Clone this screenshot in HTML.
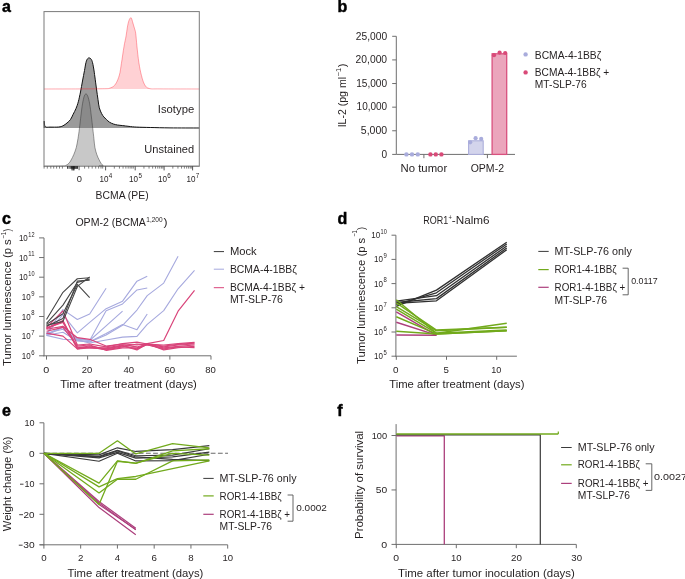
<!DOCTYPE html>
<html><head><meta charset="utf-8"><style>
html,body{margin:0;padding:0;background:#fff;width:685px;height:579px;overflow:hidden}
svg{display:block}
text{font-family:"Liberation Sans",sans-serif}
</style></head><body>
<svg width="685" height="579" viewBox="0 0 685 579">
<rect width="685" height="579" fill="#fff"/>
<g style="will-change:transform">
<text x="1.9" y="11.8" font-size="16" font-weight="bold" fill="#000" stroke="#000" stroke-width="0.45">a</text>
<text x="337.6" y="11.7" font-size="16" font-weight="bold" fill="#000" stroke="#000" stroke-width="0.45">b</text>
<text x="1.9" y="223.8" font-size="16" font-weight="bold" fill="#000" stroke="#000" stroke-width="0.45">c</text>
<text x="337.5" y="223.6" font-size="16" font-weight="bold" fill="#000" stroke="#000" stroke-width="0.45">d</text>
<text x="1.9" y="415.6" font-size="16" font-weight="bold" fill="#000" stroke="#000" stroke-width="0.45">e</text>
<text x="337.3" y="415.5" font-size="16" font-weight="bold" fill="#000" stroke="#000" stroke-width="0.45">f</text>
<path d="M44.20,128.00 C44.20,126.83 44.03,121.22 44.20,121.00 C44.37,120.78 44.23,125.68 45.20,126.70 C46.17,127.72 47.75,127.05 50.00,127.10 C52.25,127.15 56.53,127.22 58.70,127.00 C60.87,126.78 61.62,126.47 63.00,125.80 C64.38,125.13 65.75,124.05 67.00,123.00 C68.25,121.95 69.47,120.97 70.50,119.50 C71.53,118.03 72.28,116.03 73.20,114.20 C74.12,112.37 75.15,110.57 76.00,108.50 C76.85,106.43 77.55,104.55 78.30,101.80 C79.05,99.05 79.80,95.47 80.50,92.00 C81.20,88.53 81.83,84.58 82.50,81.00 C83.17,77.42 83.92,73.60 84.50,70.50 C85.08,67.40 85.50,64.35 86.00,62.40 C86.50,60.45 86.98,59.55 87.50,58.80 C88.02,58.05 88.55,57.90 89.10,57.90 C89.65,57.90 90.28,58.22 90.80,58.80 C91.32,59.38 91.73,59.87 92.20,61.40 C92.67,62.93 93.15,65.40 93.60,68.00 C94.05,70.60 94.42,73.50 94.90,77.00 C95.38,80.50 95.98,85.22 96.50,89.00 C97.02,92.78 97.53,96.57 98.00,99.70 C98.47,102.83 98.68,105.47 99.30,107.80 C99.92,110.13 100.95,112.18 101.70,113.70 C102.45,115.22 103.02,115.93 103.80,116.90 C104.58,117.87 105.45,118.62 106.40,119.50 C107.35,120.38 108.33,121.45 109.50,122.20 C110.67,122.95 112.07,123.53 113.40,124.00 C114.73,124.47 115.95,124.73 117.50,125.00 C119.05,125.27 120.78,125.37 122.70,125.60 C124.62,125.83 126.67,126.15 129.00,126.40 C131.33,126.65 133.08,126.92 136.70,127.10 C140.32,127.28 145.15,127.37 150.70,127.50 C156.25,127.63 161.90,127.82 170.00,127.90 C178.10,127.98 194.42,127.98 199.30,128.00 Z" fill="#9b9b9b" stroke="none" stroke-width="1.0"/>
<path d="M44.20,128.00 C44.20,126.83 44.03,121.22 44.20,121.00 C44.37,120.78 44.23,125.68 45.20,126.70 C46.17,127.72 47.75,127.05 50.00,127.10 C52.25,127.15 56.53,127.22 58.70,127.00 C60.87,126.78 61.62,126.47 63.00,125.80 C64.38,125.13 65.75,124.05 67.00,123.00 C68.25,121.95 69.47,120.97 70.50,119.50 C71.53,118.03 72.28,116.03 73.20,114.20 C74.12,112.37 75.15,110.57 76.00,108.50 C76.85,106.43 77.55,104.55 78.30,101.80 C79.05,99.05 79.80,95.47 80.50,92.00 C81.20,88.53 81.83,84.58 82.50,81.00 C83.17,77.42 83.92,73.60 84.50,70.50 C85.08,67.40 85.50,64.35 86.00,62.40 C86.50,60.45 86.98,59.55 87.50,58.80 C88.02,58.05 88.55,57.90 89.10,57.90 C89.65,57.90 90.28,58.22 90.80,58.80 C91.32,59.38 91.73,59.87 92.20,61.40 C92.67,62.93 93.15,65.40 93.60,68.00 C94.05,70.60 94.42,73.50 94.90,77.00 C95.38,80.50 95.98,85.22 96.50,89.00 C97.02,92.78 97.53,96.57 98.00,99.70 C98.47,102.83 98.68,105.47 99.30,107.80 C99.92,110.13 100.95,112.18 101.70,113.70 C102.45,115.22 103.02,115.93 103.80,116.90 C104.58,117.87 105.45,118.62 106.40,119.50 C107.35,120.38 108.33,121.45 109.50,122.20 C110.67,122.95 112.07,123.53 113.40,124.00 C114.73,124.47 115.95,124.73 117.50,125.00 C119.05,125.27 120.78,125.37 122.70,125.60 C124.62,125.83 126.67,126.15 129.00,126.40 C131.33,126.65 133.08,126.92 136.70,127.10 C140.32,127.28 145.15,127.37 150.70,127.50 C156.25,127.63 161.90,127.82 170.00,127.90 C178.10,127.98 194.42,127.98 199.30,128.00" fill="none" stroke="#111" stroke-width="1.0"/>
<path d="M44.00,166.20 C47.00,166.17 58.35,166.13 62.00,166.00 C65.65,165.87 64.73,165.87 65.90,165.40 C67.07,164.93 68.13,164.10 69.00,163.20 C69.87,162.30 70.30,161.45 71.10,160.00 C71.90,158.55 72.93,156.60 73.80,154.50 C74.67,152.40 75.60,150.07 76.30,147.40 C77.00,144.73 77.48,141.60 78.00,138.50 C78.52,135.40 78.90,132.72 79.40,128.80 C79.90,124.88 80.48,119.15 81.00,115.00 C81.52,110.85 81.97,107.02 82.50,103.90 C83.03,100.78 83.62,97.97 84.20,96.30 C84.78,94.63 85.40,93.90 86.00,93.90 C86.60,93.90 87.18,94.63 87.80,96.30 C88.42,97.97 89.12,100.62 89.70,103.90 C90.28,107.18 90.78,111.85 91.30,116.00 C91.82,120.15 92.37,125.05 92.80,128.80 C93.23,132.55 93.55,135.40 93.90,138.50 C94.25,141.60 94.42,144.73 94.90,147.40 C95.38,150.07 96.10,152.43 96.80,154.50 C97.50,156.57 98.37,158.30 99.10,159.80 C99.83,161.30 100.52,162.55 101.20,163.50 C101.88,164.45 102.23,165.07 103.20,165.50 C104.17,165.93 90.98,165.98 107.00,166.10 C123.02,166.22 183.92,166.18 199.30,166.20 Z" fill="rgba(110,110,110,0.38)" stroke="none" stroke-width="1.0"/>
<path d="M44.00,166.20 C47.00,166.17 58.35,166.13 62.00,166.00 C65.65,165.87 64.73,165.87 65.90,165.40 C67.07,164.93 68.13,164.10 69.00,163.20 C69.87,162.30 70.30,161.45 71.10,160.00 C71.90,158.55 72.93,156.60 73.80,154.50 C74.67,152.40 75.60,150.07 76.30,147.40 C77.00,144.73 77.48,141.60 78.00,138.50 C78.52,135.40 78.90,132.72 79.40,128.80 C79.90,124.88 80.48,119.15 81.00,115.00 C81.52,110.85 81.97,107.02 82.50,103.90 C83.03,100.78 83.62,97.97 84.20,96.30 C84.78,94.63 85.40,93.90 86.00,93.90 C86.60,93.90 87.18,94.63 87.80,96.30 C88.42,97.97 89.12,100.62 89.70,103.90 C90.28,107.18 90.78,111.85 91.30,116.00 C91.82,120.15 92.37,125.05 92.80,128.80 C93.23,132.55 93.55,135.40 93.90,138.50 C94.25,141.60 94.42,144.73 94.90,147.40 C95.38,150.07 96.10,152.43 96.80,154.50 C97.50,156.57 98.37,158.30 99.10,159.80 C99.83,161.30 100.52,162.55 101.20,163.50 C101.88,164.45 102.23,165.07 103.20,165.50 C104.17,165.93 90.98,165.98 107.00,166.10 C123.02,166.22 183.92,166.18 199.30,166.20" fill="none" stroke="rgba(50,50,50,0.6)" stroke-width="0.8"/>
<path d="M44.00,89.00 C53.33,88.97 88.93,88.98 100.00,88.80 C111.07,88.62 107.80,88.70 110.40,87.90 C113.00,87.10 114.10,86.15 115.60,84.00 C117.10,81.85 118.43,78.42 119.40,75.00 C120.37,71.58 120.63,68.25 121.40,63.50 C122.17,58.75 123.22,51.10 124.00,46.50 C124.78,41.90 125.53,39.13 126.10,35.90 C126.67,32.67 126.92,29.68 127.40,27.10 C127.88,24.52 128.38,21.95 129.00,20.40 C129.62,18.85 130.45,17.37 131.10,17.80 C131.75,18.23 132.35,21.28 132.90,23.00 C133.45,24.72 133.93,26.38 134.40,28.10 C134.87,29.82 135.28,30.33 135.70,33.30 C136.12,36.27 136.37,40.98 136.90,45.90 C137.43,50.82 138.13,57.83 138.90,62.80 C139.67,67.77 140.53,72.03 141.50,75.70 C142.47,79.37 143.42,82.67 144.70,84.80 C145.98,86.93 146.65,87.82 149.20,88.50 C151.75,89.18 151.65,88.82 160.00,88.90 C168.35,88.98 192.75,88.98 199.30,89.00 Z" fill="rgba(255,40,50,0.21)" stroke="none" stroke-width="1.0"/>
<path d="M44.00,89.00 C53.33,88.97 88.93,88.98 100.00,88.80 C111.07,88.62 107.80,88.70 110.40,87.90 C113.00,87.10 114.10,86.15 115.60,84.00 C117.10,81.85 118.43,78.42 119.40,75.00 C120.37,71.58 120.63,68.25 121.40,63.50 C122.17,58.75 123.22,51.10 124.00,46.50 C124.78,41.90 125.53,39.13 126.10,35.90 C126.67,32.67 126.92,29.68 127.40,27.10 C127.88,24.52 128.38,21.95 129.00,20.40 C129.62,18.85 130.45,17.37 131.10,17.80 C131.75,18.23 132.35,21.28 132.90,23.00 C133.45,24.72 133.93,26.38 134.40,28.10 C134.87,29.82 135.28,30.33 135.70,33.30 C136.12,36.27 136.37,40.98 136.90,45.90 C137.43,50.82 138.13,57.83 138.90,62.80 C139.67,67.77 140.53,72.03 141.50,75.70 C142.47,79.37 143.42,82.67 144.70,84.80 C145.98,86.93 146.65,87.82 149.20,88.50 C151.75,89.18 151.65,88.82 160.00,88.90 C168.35,88.98 192.75,88.98 199.30,89.00" fill="none" stroke="rgba(255,30,45,0.42)" stroke-width="0.9"/>
<rect x="44.0" y="11.6" width="155.3" height="154.6" fill="none" stroke="#7a7a7a" stroke-width="1"/>
<line x1="105.60" y1="166.20" x2="105.60" y2="170.40" stroke="#444" stroke-width="0.9"/>
<line x1="114.33" y1="166.20" x2="114.33" y2="168.60" stroke="#555" stroke-width="0.75"/>
<line x1="119.44" y1="166.20" x2="119.44" y2="168.60" stroke="#555" stroke-width="0.75"/>
<line x1="123.06" y1="166.20" x2="123.06" y2="168.60" stroke="#555" stroke-width="0.75"/>
<line x1="125.87" y1="166.20" x2="125.87" y2="168.60" stroke="#555" stroke-width="0.75"/>
<line x1="128.17" y1="166.20" x2="128.17" y2="168.60" stroke="#555" stroke-width="0.75"/>
<line x1="130.11" y1="166.20" x2="130.11" y2="168.60" stroke="#555" stroke-width="0.75"/>
<line x1="131.79" y1="166.20" x2="131.79" y2="168.60" stroke="#555" stroke-width="0.75"/>
<line x1="133.27" y1="166.20" x2="133.27" y2="168.60" stroke="#555" stroke-width="0.75"/>
<line x1="135.20" y1="166.20" x2="135.20" y2="170.40" stroke="#444" stroke-width="0.9"/>
<line x1="143.93" y1="166.20" x2="143.93" y2="168.60" stroke="#555" stroke-width="0.75"/>
<line x1="149.04" y1="166.20" x2="149.04" y2="168.60" stroke="#555" stroke-width="0.75"/>
<line x1="152.66" y1="166.20" x2="152.66" y2="168.60" stroke="#555" stroke-width="0.75"/>
<line x1="155.47" y1="166.20" x2="155.47" y2="168.60" stroke="#555" stroke-width="0.75"/>
<line x1="157.77" y1="166.20" x2="157.77" y2="168.60" stroke="#555" stroke-width="0.75"/>
<line x1="159.71" y1="166.20" x2="159.71" y2="168.60" stroke="#555" stroke-width="0.75"/>
<line x1="161.39" y1="166.20" x2="161.39" y2="168.60" stroke="#555" stroke-width="0.75"/>
<line x1="162.87" y1="166.20" x2="162.87" y2="168.60" stroke="#555" stroke-width="0.75"/>
<line x1="164.10" y1="166.20" x2="164.10" y2="170.40" stroke="#444" stroke-width="0.9"/>
<line x1="172.83" y1="166.20" x2="172.83" y2="168.60" stroke="#555" stroke-width="0.75"/>
<line x1="177.94" y1="166.20" x2="177.94" y2="168.60" stroke="#555" stroke-width="0.75"/>
<line x1="181.56" y1="166.20" x2="181.56" y2="168.60" stroke="#555" stroke-width="0.75"/>
<line x1="184.37" y1="166.20" x2="184.37" y2="168.60" stroke="#555" stroke-width="0.75"/>
<line x1="186.67" y1="166.20" x2="186.67" y2="168.60" stroke="#555" stroke-width="0.75"/>
<line x1="188.61" y1="166.20" x2="188.61" y2="168.60" stroke="#555" stroke-width="0.75"/>
<line x1="190.29" y1="166.20" x2="190.29" y2="168.60" stroke="#555" stroke-width="0.75"/>
<line x1="191.77" y1="166.20" x2="191.77" y2="168.60" stroke="#555" stroke-width="0.75"/>
<line x1="192.60" y1="166.20" x2="192.60" y2="170.40" stroke="#444" stroke-width="0.9"/>
<line x1="44.10" y1="166.20" x2="44.10" y2="168.60" stroke="#555" stroke-width="0.75"/>
<line x1="47.30" y1="166.20" x2="47.30" y2="168.60" stroke="#555" stroke-width="0.75"/>
<line x1="50.80" y1="166.20" x2="50.80" y2="168.60" stroke="#555" stroke-width="0.75"/>
<line x1="53.70" y1="166.20" x2="53.70" y2="168.60" stroke="#555" stroke-width="0.75"/>
<line x1="56.60" y1="166.20" x2="56.60" y2="168.60" stroke="#555" stroke-width="0.75"/>
<line x1="59.50" y1="166.20" x2="59.50" y2="168.60" stroke="#555" stroke-width="0.75"/>
<line x1="62.40" y1="166.20" x2="62.40" y2="168.60" stroke="#555" stroke-width="0.75"/>
<line x1="84.60" y1="166.20" x2="84.60" y2="168.60" stroke="#555" stroke-width="0.75"/>
<line x1="88.70" y1="166.20" x2="88.70" y2="168.60" stroke="#555" stroke-width="0.75"/>
<line x1="92.20" y1="166.20" x2="92.20" y2="168.60" stroke="#555" stroke-width="0.75"/>
<line x1="95.70" y1="166.20" x2="95.70" y2="168.60" stroke="#555" stroke-width="0.75"/>
<line x1="98.60" y1="166.20" x2="98.60" y2="168.60" stroke="#555" stroke-width="0.75"/>
<line x1="101.00" y1="166.20" x2="101.00" y2="168.60" stroke="#555" stroke-width="0.75"/>
<line x1="102.70" y1="166.20" x2="102.70" y2="168.60" stroke="#555" stroke-width="0.75"/>
<line x1="67.50" y1="166.20" x2="67.50" y2="168.80" stroke="#111" stroke-width="0.8"/>
<line x1="69.00" y1="166.20" x2="69.00" y2="168.80" stroke="#111" stroke-width="0.8"/>
<line x1="70.30" y1="166.20" x2="70.30" y2="168.80" stroke="#111" stroke-width="0.8"/>
<line x1="71.50" y1="166.20" x2="71.50" y2="168.80" stroke="#111" stroke-width="0.8"/>
<line x1="72.60" y1="166.20" x2="72.60" y2="168.80" stroke="#111" stroke-width="0.8"/>
<line x1="73.60" y1="166.20" x2="73.60" y2="168.80" stroke="#111" stroke-width="0.8"/>
<line x1="74.50" y1="166.20" x2="74.50" y2="168.80" stroke="#111" stroke-width="0.8"/>
<line x1="75.30" y1="166.20" x2="75.30" y2="168.80" stroke="#111" stroke-width="0.8"/>
<line x1="76.10" y1="166.20" x2="76.10" y2="168.80" stroke="#111" stroke-width="0.8"/>
<line x1="76.80" y1="166.20" x2="76.80" y2="168.80" stroke="#111" stroke-width="0.8"/>
<line x1="77.50" y1="166.20" x2="77.50" y2="168.80" stroke="#111" stroke-width="0.8"/>
<line x1="72.00" y1="166.20" x2="72.00" y2="170.40" stroke="#111" stroke-width="0.9"/>
<line x1="73.20" y1="166.20" x2="73.20" y2="170.40" stroke="#111" stroke-width="0.9"/>
<line x1="74.00" y1="166.20" x2="74.00" y2="170.40" stroke="#111" stroke-width="0.9"/>
<line x1="79.10" y1="166.20" x2="79.10" y2="170.20" stroke="#555" stroke-width="0.9"/>
<text x="76.80" y="182.40" font-size="9.2" fill="#231f20" textLength="5.20" lengthAdjust="spacingAndGlyphs">0</text>
<text x="99.40" y="182.40" font-size="9.2" fill="#231f20" textLength="9.00" lengthAdjust="spacingAndGlyphs">10</text>
<text x="108.80" y="177.60" font-size="6.4" fill="#231f20" textLength="3.50" lengthAdjust="spacingAndGlyphs">4</text>
<text x="129.00" y="182.40" font-size="9.2" fill="#231f20" textLength="9.00" lengthAdjust="spacingAndGlyphs">10</text>
<text x="138.40" y="177.60" font-size="6.4" fill="#231f20" textLength="3.50" lengthAdjust="spacingAndGlyphs">5</text>
<text x="157.90" y="182.40" font-size="9.2" fill="#231f20" textLength="9.00" lengthAdjust="spacingAndGlyphs">10</text>
<text x="167.30" y="177.60" font-size="6.4" fill="#231f20" textLength="3.50" lengthAdjust="spacingAndGlyphs">6</text>
<text x="186.40" y="182.40" font-size="9.2" fill="#231f20" textLength="9.00" lengthAdjust="spacingAndGlyphs">10</text>
<text x="195.80" y="177.60" font-size="6.4" fill="#231f20" textLength="3.50" lengthAdjust="spacingAndGlyphs">7</text>
<text x="95.60" y="199.20" font-size="10.7" fill="#231f20" textLength="53.00" lengthAdjust="spacingAndGlyphs">BCMA (PE)</text>
<text x="157.80" y="113.00" font-size="10.7" fill="#231f20" textLength="36.40" lengthAdjust="spacingAndGlyphs">Isotype</text>
<text x="144.30" y="152.90" font-size="10.7" fill="#231f20" textLength="49.90" lengthAdjust="spacingAndGlyphs">Unstained</text>
<line x1="396.30" y1="36.30" x2="396.30" y2="154.40" stroke="#6e6e6e" stroke-width="1.0"/>
<line x1="396.30" y1="154.40" x2="515.00" y2="154.40" stroke="#6e6e6e" stroke-width="1.0"/>
<line x1="392.20" y1="36.30" x2="396.30" y2="36.30" stroke="#6e6e6e" stroke-width="1.0"/>
<text x="355.80" y="39.60" font-size="10.0" fill="#231f20" textLength="31.30" lengthAdjust="spacingAndGlyphs">25,000</text>
<line x1="392.20" y1="59.92" x2="396.30" y2="59.92" stroke="#6e6e6e" stroke-width="1.0"/>
<text x="355.60" y="63.22" font-size="10.0" fill="#231f20" textLength="31.50" lengthAdjust="spacingAndGlyphs">20,000</text>
<line x1="392.20" y1="83.54" x2="396.30" y2="83.54" stroke="#6e6e6e" stroke-width="1.0"/>
<text x="356.20" y="86.84" font-size="10.0" fill="#231f20" textLength="30.90" lengthAdjust="spacingAndGlyphs">15,000</text>
<line x1="392.20" y1="107.16" x2="396.30" y2="107.16" stroke="#6e6e6e" stroke-width="1.0"/>
<text x="356.60" y="110.46" font-size="10.0" fill="#231f20" textLength="30.50" lengthAdjust="spacingAndGlyphs">10,000</text>
<line x1="392.20" y1="130.78" x2="396.30" y2="130.78" stroke="#6e6e6e" stroke-width="1.0"/>
<text x="360.80" y="134.08" font-size="10.0" fill="#231f20" textLength="26.30" lengthAdjust="spacingAndGlyphs">5,000</text>
<line x1="392.20" y1="154.40" x2="396.30" y2="154.40" stroke="#6e6e6e" stroke-width="1.0"/>
<text x="381.50" y="157.70" font-size="10.0" fill="#231f20" textLength="5.60" lengthAdjust="spacingAndGlyphs">0</text>
<line x1="423.90" y1="154.40" x2="423.90" y2="158.20" stroke="#6e6e6e" stroke-width="1.0"/>
<line x1="487.40" y1="154.40" x2="487.40" y2="158.20" stroke="#6e6e6e" stroke-width="1.0"/>
<rect x="468.6" y="140.8" width="14.6" height="13.60" fill="#d3d4ec" stroke="#acaedb" stroke-width="1.1"/>
<rect x="492.1" y="53.8" width="14.6" height="100.60" fill="#eba5bc" stroke="#d9517f" stroke-width="1.3"/>
<circle cx="470.20" cy="142.30" r="2.1" fill="#a9acdc"/>
<circle cx="475.60" cy="138.20" r="2.1" fill="#a9acdc"/>
<circle cx="481.20" cy="138.90" r="2.1" fill="#a9acdc"/>
<circle cx="494.00" cy="55.20" r="2.1" fill="#d94a78"/>
<circle cx="499.60" cy="52.60" r="2.1" fill="#d94a78"/>
<circle cx="505.20" cy="53.00" r="2.1" fill="#d94a78"/>
<circle cx="406.40" cy="154.40" r="2.2" fill="#a9acdc"/>
<circle cx="412.00" cy="154.40" r="2.2" fill="#a9acdc"/>
<circle cx="417.80" cy="154.40" r="2.2" fill="#a9acdc"/>
<circle cx="430.40" cy="154.40" r="2.2" fill="#d94a78"/>
<circle cx="435.80" cy="154.40" r="2.2" fill="#d94a78"/>
<circle cx="441.40" cy="154.40" r="2.2" fill="#d94a78"/>
<text x="400.60" y="171.80" font-size="10.7" fill="#231f20" textLength="46.60" lengthAdjust="spacingAndGlyphs">No tumor</text>
<text x="470.70" y="171.80" font-size="10.7" fill="#231f20" textLength="33.30" lengthAdjust="spacingAndGlyphs">OPM-2</text>
<text transform="translate(346.10,127.30) rotate(-90)" x="0" y="0" font-size="10.7" fill="#231f20" textLength="50.30" lengthAdjust="spacingAndGlyphs">IL-2 (pg ml</text>
<text transform="translate(340.90,76.40) rotate(-90)" font-size="7.0" fill="#231f20" textLength="8.50" lengthAdjust="spacingAndGlyphs">−1</text>
<text transform="translate(346.10,67.30) rotate(-90)" font-size="10.7" fill="#231f20" textLength="3.70" lengthAdjust="spacingAndGlyphs">)</text>
<circle cx="525.60" cy="54.40" r="2.2" fill="#a9acdc"/>
<circle cx="525.60" cy="72.40" r="2.2" fill="#d94a78"/>
<text x="534.80" y="58.50" font-size="10.6" fill="#231f20" textLength="66.40" lengthAdjust="spacingAndGlyphs">BCMA-4-1BBζ</text>
<text x="534.80" y="76.20" font-size="10.6" fill="#231f20" textLength="74.40" lengthAdjust="spacingAndGlyphs">BCMA-4-1BBζ +</text>
<text x="534.80" y="88.20" font-size="10.6" fill="#231f20" textLength="51.80" lengthAdjust="spacingAndGlyphs">MT-SLP-76</text>
<line x1="44.00" y1="237.90" x2="44.00" y2="356.30" stroke="#6e6e6e" stroke-width="1.0"/>
<line x1="43.50" y1="355.80" x2="211.00" y2="355.80" stroke="#6e6e6e" stroke-width="1.0"/>
<line x1="39.10" y1="355.80" x2="44.00" y2="355.80" stroke="#6e6e6e" stroke-width="1.0"/>
<text x="21.80" y="358.80" font-size="9.6" fill="#231f20" textLength="8.90" lengthAdjust="spacingAndGlyphs">10</text>
<text x="31.20" y="354.50" font-size="6.6" fill="#231f20" textLength="3.30" lengthAdjust="spacingAndGlyphs">6</text>
<line x1="39.10" y1="336.15" x2="44.00" y2="336.15" stroke="#6e6e6e" stroke-width="1.0"/>
<text x="21.80" y="339.15" font-size="9.6" fill="#231f20" textLength="8.90" lengthAdjust="spacingAndGlyphs">10</text>
<text x="31.20" y="334.85" font-size="6.6" fill="#231f20" textLength="3.30" lengthAdjust="spacingAndGlyphs">7</text>
<line x1="39.10" y1="316.50" x2="44.00" y2="316.50" stroke="#6e6e6e" stroke-width="1.0"/>
<text x="21.80" y="319.50" font-size="9.6" fill="#231f20" textLength="8.90" lengthAdjust="spacingAndGlyphs">10</text>
<text x="31.20" y="315.20" font-size="6.6" fill="#231f20" textLength="3.30" lengthAdjust="spacingAndGlyphs">8</text>
<line x1="39.10" y1="296.85" x2="44.00" y2="296.85" stroke="#6e6e6e" stroke-width="1.0"/>
<text x="21.80" y="299.85" font-size="9.6" fill="#231f20" textLength="8.90" lengthAdjust="spacingAndGlyphs">10</text>
<text x="31.20" y="295.55" font-size="6.6" fill="#231f20" textLength="3.30" lengthAdjust="spacingAndGlyphs">9</text>
<line x1="39.10" y1="277.20" x2="44.00" y2="277.20" stroke="#6e6e6e" stroke-width="1.0"/>
<text x="18.90" y="280.20" font-size="9.6" fill="#231f20" textLength="8.90" lengthAdjust="spacingAndGlyphs">10</text>
<text x="28.30" y="275.90" font-size="6.6" fill="#231f20" textLength="6.20" lengthAdjust="spacingAndGlyphs">10</text>
<line x1="39.10" y1="257.55" x2="44.00" y2="257.55" stroke="#6e6e6e" stroke-width="1.0"/>
<text x="18.90" y="260.55" font-size="9.6" fill="#231f20" textLength="8.90" lengthAdjust="spacingAndGlyphs">10</text>
<text x="28.30" y="256.25" font-size="6.6" fill="#231f20" textLength="6.20" lengthAdjust="spacingAndGlyphs">11</text>
<line x1="39.10" y1="237.90" x2="44.00" y2="237.90" stroke="#6e6e6e" stroke-width="1.0"/>
<text x="18.90" y="240.90" font-size="9.6" fill="#231f20" textLength="8.90" lengthAdjust="spacingAndGlyphs">10</text>
<text x="28.30" y="236.60" font-size="6.6" fill="#231f20" textLength="6.20" lengthAdjust="spacingAndGlyphs">12</text>
<line x1="46.50" y1="355.80" x2="46.50" y2="359.60" stroke="#6e6e6e" stroke-width="1.0"/>
<text x="43.20" y="372.70" font-size="9.3" fill="#231f20" textLength="6.00" lengthAdjust="spacingAndGlyphs">0</text>
<line x1="87.62" y1="355.80" x2="87.62" y2="359.60" stroke="#6e6e6e" stroke-width="1.0"/>
<text x="81.80" y="372.70" font-size="9.3" fill="#231f20" textLength="10.50" lengthAdjust="spacingAndGlyphs">20</text>
<line x1="128.74" y1="355.80" x2="128.74" y2="359.60" stroke="#6e6e6e" stroke-width="1.0"/>
<text x="123.40" y="372.70" font-size="9.3" fill="#231f20" textLength="10.60" lengthAdjust="spacingAndGlyphs">40</text>
<line x1="169.86" y1="355.80" x2="169.86" y2="359.60" stroke="#6e6e6e" stroke-width="1.0"/>
<text x="164.40" y="372.70" font-size="9.3" fill="#231f20" textLength="10.70" lengthAdjust="spacingAndGlyphs">60</text>
<line x1="210.98" y1="355.80" x2="210.98" y2="359.60" stroke="#6e6e6e" stroke-width="1.0"/>
<text x="205.20" y="372.70" font-size="9.3" fill="#231f20" textLength="10.60" lengthAdjust="spacingAndGlyphs">80</text>
<text x="60.30" y="388.20" font-size="10.7" fill="#231f20" textLength="136.60" lengthAdjust="spacingAndGlyphs">Time after treatment (days)</text>
<text transform="translate(10.90,366.00) rotate(-90)" x="0" y="0" font-size="10.7" fill="#231f20" textLength="126.80" lengthAdjust="spacingAndGlyphs">Tumor luminescence (p s</text>
<text transform="translate(5.60,238.80) rotate(-90)" font-size="7.0" fill="#231f20" textLength="6.90" lengthAdjust="spacingAndGlyphs">−1</text>
<text transform="translate(10.90,231.50) rotate(-90)" font-size="10.7" fill="#231f20" textLength="2.70" lengthAdjust="spacingAndGlyphs">)</text>
<text x="75.40" y="226.10" font-size="10.7" fill="#231f20" textLength="70.50" lengthAdjust="spacingAndGlyphs">OPM-2 (BCMA</text>
<text x="146.30" y="222.30" font-size="7.2" fill="#231f20" textLength="16.30" lengthAdjust="spacingAndGlyphs">1,200</text>
<text x="163.60" y="226.10" font-size="10.7" fill="#231f20" textLength="4.00" lengthAdjust="spacingAndGlyphs">)</text>
<polyline points="46.50,333.79 62.95,309.62 77.34,319.45 89.68,313.95 106.12,288.20" fill="none" stroke="#a6a9de" stroke-width="1.1" stroke-linejoin="round"/>
<polyline points="46.50,334.19 62.95,314.54 77.34,332.81 89.68,322.39 106.12,308.64 122.57,301.17 136.96,281.13 147.24,276.22" fill="none" stroke="#a6a9de" stroke-width="1.1" stroke-linejoin="round"/>
<polyline points="46.50,335.17 62.95,327.31 77.34,338.12 89.68,340.47 106.12,310.80 122.57,303.92 136.96,289.97 147.24,288.01" fill="none" stroke="#a6a9de" stroke-width="1.1" stroke-linejoin="round"/>
<polyline points="46.50,334.58 62.95,326.32 77.34,339.10 89.68,340.47 106.12,325.93 122.57,311.19" fill="none" stroke="#a6a9de" stroke-width="1.1" stroke-linejoin="round"/>
<polyline points="46.50,333.20 62.95,329.27 77.34,340.08 89.68,341.85 106.12,333.60 122.57,324.56 136.96,329.67 147.24,313.95" fill="none" stroke="#a6a9de" stroke-width="1.1" stroke-linejoin="round"/>
<polyline points="46.50,335.17 62.95,332.22 77.34,341.06 89.68,342.05 106.12,334.97 122.57,325.34 136.96,310.02 147.24,295.67 163.69,283.10 178.08,256.17" fill="none" stroke="#a6a9de" stroke-width="1.1" stroke-linejoin="round"/>
<polyline points="46.50,335.36 62.95,339.29 77.34,340.08 89.68,343.03 106.12,340.08 122.57,337.13 136.96,336.35 147.24,324.36 163.69,310.61 178.08,288.79 194.53,270.32" fill="none" stroke="#a6a9de" stroke-width="1.1" stroke-linejoin="round"/>
<polyline points="46.50,327.31 62.95,311.00 77.34,344.99 89.68,344.01 106.12,346.96 122.57,343.62 136.96,342.05 147.24,344.01 163.69,344.99 178.08,343.62 194.53,342.44" fill="none" stroke="#d9447a" stroke-width="1.2" stroke-linejoin="round"/>
<polyline points="46.50,328.29 62.95,320.43 77.34,347.94 89.68,345.98 106.12,348.92 122.57,345.98 136.96,348.92 147.24,344.40 163.69,346.96 178.08,344.99 194.53,344.01" fill="none" stroke="#d9447a" stroke-width="1.2" stroke-linejoin="round"/>
<polyline points="46.50,328.68 62.95,321.41 77.34,348.92 89.68,346.96 106.12,349.91 122.57,346.96 136.96,344.01 147.24,344.99 163.69,347.94 178.08,346.37 194.53,344.99" fill="none" stroke="#d9447a" stroke-width="1.2" stroke-linejoin="round"/>
<polyline points="46.50,327.90 62.95,322.39 77.34,346.96 89.68,347.94 106.12,348.92 122.57,345.58 136.96,349.91 147.24,343.62 163.69,349.91 178.08,347.55 194.53,346.37" fill="none" stroke="#d9447a" stroke-width="1.2" stroke-linejoin="round"/>
<polyline points="46.50,329.27 62.95,326.32 77.34,337.72 89.68,339.29 106.12,345.98 122.57,344.01 136.96,344.99 147.24,343.62 163.69,340.47 178.08,311.19 194.53,290.37" fill="none" stroke="#d9447a" stroke-width="1.2" stroke-linejoin="round"/>
<polyline points="46.50,331.24 62.95,327.31 77.34,345.98 89.68,344.99 106.12,350.30 122.57,347.94 136.96,347.94 147.24,344.60 163.69,348.92 178.08,346.96 194.53,347.55" fill="none" stroke="#d9447a" stroke-width="1.2" stroke-linejoin="round"/>
<polyline points="46.50,333.20 62.95,336.15 77.34,348.92 89.68,347.94 106.12,347.94 122.57,344.99 136.96,346.96 147.24,344.01 163.69,345.98 178.08,344.40 194.53,343.03" fill="none" stroke="#d9447a" stroke-width="1.2" stroke-linejoin="round"/>
<polyline points="46.50,319.45 62.95,292.33 77.34,278.77 89.68,277.79" fill="none" stroke="#454545" stroke-width="1.1" stroke-linejoin="round"/>
<polyline points="46.50,323.38 62.95,305.10 77.34,282.51 89.68,278.97" fill="none" stroke="#454545" stroke-width="1.1" stroke-linejoin="round"/>
<polyline points="46.50,324.36 62.95,313.75 77.34,284.47 89.68,297.64" fill="none" stroke="#454545" stroke-width="1.1" stroke-linejoin="round"/>
<polyline points="46.50,325.34 62.95,321.41 77.34,286.44 89.68,276.81" fill="none" stroke="#454545" stroke-width="1.1" stroke-linejoin="round"/>
<polyline points="46.50,326.32 62.95,318.47 77.34,281.13 89.68,280.15" fill="none" stroke="#454545" stroke-width="1.1" stroke-linejoin="round"/>
<line x1="213.80" y1="251.60" x2="224.00" y2="251.60" stroke="#3a3a3a" stroke-width="1.0"/>
<line x1="213.80" y1="269.20" x2="224.00" y2="269.20" stroke="#a6a9de" stroke-width="1.0"/>
<line x1="213.80" y1="287.70" x2="224.00" y2="287.70" stroke="#d9447a" stroke-width="1.0"/>
<text x="229.90" y="255.30" font-size="10.6" fill="#231f20" textLength="26.80" lengthAdjust="spacingAndGlyphs">Mock</text>
<text x="229.90" y="272.90" font-size="10.6" fill="#231f20" textLength="67.00" lengthAdjust="spacingAndGlyphs">BCMA-4-1BBζ</text>
<text x="229.90" y="291.10" font-size="10.6" fill="#231f20" textLength="75.00" lengthAdjust="spacingAndGlyphs">BCMA-4-1BBζ +</text>
<text x="229.90" y="302.60" font-size="10.6" fill="#231f20" textLength="53.00" lengthAdjust="spacingAndGlyphs">MT-SLP-76</text>
<line x1="395.90" y1="235.20" x2="395.90" y2="356.70" stroke="#6e6e6e" stroke-width="1.0"/>
<line x1="395.40" y1="356.20" x2="516.90" y2="356.20" stroke="#6e6e6e" stroke-width="1.0"/>
<line x1="391.50" y1="356.20" x2="395.90" y2="356.20" stroke="#6e6e6e" stroke-width="1.0"/>
<text x="374.10" y="359.20" font-size="9.6" fill="#231f20" textLength="8.90" lengthAdjust="spacingAndGlyphs">10</text>
<text x="383.50" y="354.90" font-size="6.6" fill="#231f20" textLength="3.30" lengthAdjust="spacingAndGlyphs">5</text>
<line x1="391.50" y1="332.00" x2="395.90" y2="332.00" stroke="#6e6e6e" stroke-width="1.0"/>
<text x="374.10" y="335.00" font-size="9.6" fill="#231f20" textLength="8.90" lengthAdjust="spacingAndGlyphs">10</text>
<text x="383.50" y="330.70" font-size="6.6" fill="#231f20" textLength="3.30" lengthAdjust="spacingAndGlyphs">6</text>
<line x1="391.50" y1="307.80" x2="395.90" y2="307.80" stroke="#6e6e6e" stroke-width="1.0"/>
<text x="374.10" y="310.80" font-size="9.6" fill="#231f20" textLength="8.90" lengthAdjust="spacingAndGlyphs">10</text>
<text x="383.50" y="306.50" font-size="6.6" fill="#231f20" textLength="3.30" lengthAdjust="spacingAndGlyphs">7</text>
<line x1="391.50" y1="283.60" x2="395.90" y2="283.60" stroke="#6e6e6e" stroke-width="1.0"/>
<text x="374.10" y="286.60" font-size="9.6" fill="#231f20" textLength="8.90" lengthAdjust="spacingAndGlyphs">10</text>
<text x="383.50" y="282.30" font-size="6.6" fill="#231f20" textLength="3.30" lengthAdjust="spacingAndGlyphs">8</text>
<line x1="391.50" y1="259.40" x2="395.90" y2="259.40" stroke="#6e6e6e" stroke-width="1.0"/>
<text x="374.10" y="262.40" font-size="9.6" fill="#231f20" textLength="8.90" lengthAdjust="spacingAndGlyphs">10</text>
<text x="383.50" y="258.10" font-size="6.6" fill="#231f20" textLength="3.30" lengthAdjust="spacingAndGlyphs">9</text>
<line x1="391.50" y1="235.20" x2="395.90" y2="235.20" stroke="#6e6e6e" stroke-width="1.0"/>
<text x="371.20" y="238.20" font-size="9.6" fill="#231f20" textLength="8.90" lengthAdjust="spacingAndGlyphs">10</text>
<text x="380.60" y="233.90" font-size="6.6" fill="#231f20" textLength="6.20" lengthAdjust="spacingAndGlyphs">10</text>
<line x1="396.30" y1="356.20" x2="396.30" y2="359.80" stroke="#6e6e6e" stroke-width="1.0"/>
<text x="393.10" y="372.70" font-size="9.3" fill="#231f20" textLength="5.50" lengthAdjust="spacingAndGlyphs">0</text>
<line x1="446.50" y1="356.20" x2="446.50" y2="359.80" stroke="#6e6e6e" stroke-width="1.0"/>
<text x="443.60" y="372.70" font-size="9.3" fill="#231f20" textLength="5.40" lengthAdjust="spacingAndGlyphs">5</text>
<line x1="496.70" y1="356.20" x2="496.70" y2="359.80" stroke="#6e6e6e" stroke-width="1.0"/>
<text x="491.20" y="372.70" font-size="9.3" fill="#231f20" textLength="10.10" lengthAdjust="spacingAndGlyphs">10</text>
<text x="389.20" y="388.40" font-size="10.7" fill="#231f20" textLength="135.30" lengthAdjust="spacingAndGlyphs">Time after treatment (days)</text>
<text transform="translate(364.80,364.00) rotate(-90)" x="0" y="0" font-size="10.7" fill="#231f20" textLength="126.20" lengthAdjust="spacingAndGlyphs">Tumor luminescence (p s</text>
<text transform="translate(357.40,236.80) rotate(-90)" font-size="7.0" fill="#231f20" textLength="6.50" lengthAdjust="spacingAndGlyphs">−1</text>
<text transform="translate(364.80,229.90) rotate(-90)" font-size="10.7" fill="#231f20" textLength="3.10" lengthAdjust="spacingAndGlyphs">)</text>
<text x="423.30" y="223.70" font-size="10.7" fill="#231f20" textLength="25.00" lengthAdjust="spacingAndGlyphs">ROR1</text>
<text x="448.60" y="219.80" font-size="6.8" fill="#231f20" textLength="3.40" lengthAdjust="spacingAndGlyphs">+</text>
<text x="451.80" y="223.70" font-size="10.7" fill="#231f20" textLength="37.80" lengthAdjust="spacingAndGlyphs">-Nalm6</text>
<polyline points="396.30,306.35 436.46,290.13 506.74,242.22" fill="none" stroke="#303030" stroke-width="1.3" stroke-linejoin="round"/>
<polyline points="396.30,304.41 436.46,292.80 506.74,243.91" fill="none" stroke="#303030" stroke-width="1.3" stroke-linejoin="round"/>
<polyline points="396.30,301.02 436.46,295.70 506.74,246.09" fill="none" stroke="#303030" stroke-width="1.3" stroke-linejoin="round"/>
<polyline points="396.30,302.48 436.46,298.60 506.74,248.03" fill="none" stroke="#303030" stroke-width="1.3" stroke-linejoin="round"/>
<polyline points="396.30,303.44 436.46,300.78 506.74,249.72" fill="none" stroke="#303030" stroke-width="1.3" stroke-linejoin="round"/>
<polyline points="396.30,311.91 436.46,335.15" fill="none" stroke="#ac3f7c" stroke-width="1.5" stroke-linejoin="round"/>
<polyline points="396.30,322.32 436.46,335.15" fill="none" stroke="#ac3f7c" stroke-width="1.5" stroke-linejoin="round"/>
<polyline points="396.30,334.90 436.46,335.15" fill="none" stroke="#ac3f7c" stroke-width="1.5" stroke-linejoin="round"/>
<polyline points="396.30,299.81 436.46,333.21 506.74,323.29" fill="none" stroke="#72aa1c" stroke-width="1.45" stroke-linejoin="round"/>
<polyline points="396.30,306.59 436.46,330.79 506.74,327.16" fill="none" stroke="#72aa1c" stroke-width="1.45" stroke-linejoin="round"/>
<polyline points="396.30,309.01 436.46,333.21 506.74,330.06" fill="none" stroke="#72aa1c" stroke-width="1.45" stroke-linejoin="round"/>
<polyline points="396.30,316.75 436.46,333.94 506.74,330.79" fill="none" stroke="#72aa1c" stroke-width="1.45" stroke-linejoin="round"/>
<polyline points="396.30,331.27 436.46,333.94 506.74,330.79" fill="none" stroke="#72aa1c" stroke-width="1.45" stroke-linejoin="round"/>
<polyline points="396.30,302.96 436.46,330.06 506.74,327.16" fill="none" stroke="#72aa1c" stroke-width="1.45" stroke-linejoin="round"/>
<line x1="538.30" y1="251.40" x2="548.70" y2="251.40" stroke="#3a3a3a" stroke-width="1.0"/>
<line x1="538.30" y1="269.60" x2="548.70" y2="269.60" stroke="#72aa1c" stroke-width="1.2"/>
<line x1="538.30" y1="287.30" x2="548.70" y2="287.30" stroke="#ac3f7c" stroke-width="1.2"/>
<text x="554.60" y="255.20" font-size="10.6" fill="#231f20" textLength="77.30" lengthAdjust="spacingAndGlyphs">MT-SLP-76 only</text>
<text x="554.60" y="272.90" font-size="10.6" fill="#231f20" textLength="62.10" lengthAdjust="spacingAndGlyphs">ROR1-4-1BBζ</text>
<text x="554.60" y="290.80" font-size="10.6" fill="#231f20" textLength="70.60" lengthAdjust="spacingAndGlyphs">ROR1-4-1BBζ +</text>
<text x="554.60" y="303.50" font-size="10.6" fill="#231f20" textLength="52.30" lengthAdjust="spacingAndGlyphs">MT-SLP-76</text>
<polyline points="622.60,268.20 628.20,268.20 628.20,294.80 622.60,294.80" fill="none" stroke="#555" stroke-width="0.9" stroke-linejoin="round"/>
<text x="631.20" y="284.30" font-size="9.2" fill="#231f20" textLength="26.40" lengthAdjust="spacingAndGlyphs">0.0117</text>
<line x1="43.90" y1="422.80" x2="43.90" y2="545.30" stroke="#6e6e6e" stroke-width="1.0"/>
<line x1="39.50" y1="544.80" x2="227.70" y2="544.80" stroke="#6e6e6e" stroke-width="1.0"/>
<line x1="39.50" y1="422.80" x2="43.90" y2="422.80" stroke="#6e6e6e" stroke-width="1.0"/>
<text x="24.50" y="426.10" font-size="9.6" fill="#231f20" textLength="10.10" lengthAdjust="spacingAndGlyphs">10</text>
<line x1="39.50" y1="453.30" x2="43.90" y2="453.30" stroke="#6e6e6e" stroke-width="1.0"/>
<text x="29.00" y="456.60" font-size="9.6" fill="#231f20" textLength="5.60" lengthAdjust="spacingAndGlyphs">0</text>
<line x1="39.50" y1="483.80" x2="43.90" y2="483.80" stroke="#6e6e6e" stroke-width="1.0"/>
<text x="24.60" y="487.10" font-size="9.6" fill="#231f20" textLength="10.00" lengthAdjust="spacingAndGlyphs">10</text>
<line x1="20.00" y1="484.20" x2="23.50" y2="484.20" stroke="#231f20" stroke-width="0.85"/>
<line x1="39.50" y1="514.30" x2="43.90" y2="514.30" stroke="#6e6e6e" stroke-width="1.0"/>
<text x="23.60" y="517.60" font-size="9.6" fill="#231f20" textLength="11.00" lengthAdjust="spacingAndGlyphs">20</text>
<line x1="19.20" y1="514.70" x2="23.00" y2="514.70" stroke="#231f20" stroke-width="0.85"/>
<line x1="39.50" y1="544.80" x2="43.90" y2="544.80" stroke="#6e6e6e" stroke-width="1.0"/>
<text x="23.20" y="548.10" font-size="9.6" fill="#231f20" textLength="11.40" lengthAdjust="spacingAndGlyphs">30</text>
<line x1="18.80" y1="545.20" x2="22.60" y2="545.20" stroke="#231f20" stroke-width="0.85"/>
<line x1="43.90" y1="544.80" x2="43.90" y2="548.60" stroke="#6e6e6e" stroke-width="1.0"/>
<text x="41.20" y="561.30" font-size="9.3" fill="#231f20" textLength="5.40" lengthAdjust="spacingAndGlyphs">0</text>
<line x1="80.66" y1="544.80" x2="80.66" y2="548.60" stroke="#6e6e6e" stroke-width="1.0"/>
<text x="77.96" y="561.30" font-size="9.3" fill="#231f20" textLength="5.40" lengthAdjust="spacingAndGlyphs">2</text>
<line x1="117.42" y1="544.80" x2="117.42" y2="548.60" stroke="#6e6e6e" stroke-width="1.0"/>
<text x="114.72" y="561.30" font-size="9.3" fill="#231f20" textLength="5.40" lengthAdjust="spacingAndGlyphs">4</text>
<line x1="154.18" y1="544.80" x2="154.18" y2="548.60" stroke="#6e6e6e" stroke-width="1.0"/>
<text x="151.48" y="561.30" font-size="9.3" fill="#231f20" textLength="5.40" lengthAdjust="spacingAndGlyphs">6</text>
<line x1="190.94" y1="544.80" x2="190.94" y2="548.60" stroke="#6e6e6e" stroke-width="1.0"/>
<text x="188.24" y="561.30" font-size="9.3" fill="#231f20" textLength="5.40" lengthAdjust="spacingAndGlyphs">8</text>
<line x1="227.70" y1="544.80" x2="227.70" y2="548.60" stroke="#6e6e6e" stroke-width="1.0"/>
<text x="222.40" y="561.30" font-size="9.3" fill="#231f20" textLength="10.60" lengthAdjust="spacingAndGlyphs">10</text>
<text x="67.60" y="577.10" font-size="10.7" fill="#231f20" textLength="135.70" lengthAdjust="spacingAndGlyphs">Time after treatment (days)</text>
<text transform="translate(10.80,531.20) rotate(-90)" x="0" y="0" font-size="10.7" fill="#231f20" textLength="94.80" lengthAdjust="spacingAndGlyphs">Weight change (%)</text>
<line x1="43.90" y1="453.30" x2="228.00" y2="453.30" stroke="#6a6a6a" stroke-width="1.1" stroke-dasharray="4.8,2.4" stroke-dashoffset="6"/>
<polyline points="43.90,453.30 99.04,501.49 135.80,528.33" fill="none" stroke="#ac3f7c" stroke-width="1.2" stroke-linejoin="round"/>
<polyline points="43.90,453.30 99.04,503.01 135.80,529.86" fill="none" stroke="#ac3f7c" stroke-width="1.2" stroke-linejoin="round"/>
<polyline points="43.90,453.30 99.04,504.54 135.80,529.55" fill="none" stroke="#ac3f7c" stroke-width="1.2" stroke-linejoin="round"/>
<polyline points="43.90,453.30 99.04,507.59 135.80,534.74" fill="none" stroke="#ac3f7c" stroke-width="1.2" stroke-linejoin="round"/>
<polyline points="43.90,453.30 99.04,454.82 117.42,447.81 135.80,451.47 172.56,449.64 209.32,445.68" fill="none" stroke="#3a3a3a" stroke-width="1.2" stroke-linejoin="round"/>
<polyline points="43.90,453.30 99.04,456.35 117.42,450.25 135.80,455.74 172.56,455.13 209.32,448.73" fill="none" stroke="#3a3a3a" stroke-width="1.2" stroke-linejoin="round"/>
<polyline points="43.90,453.30 99.04,457.88 117.42,452.38 135.80,458.18 172.56,456.96 209.32,452.08" fill="none" stroke="#3a3a3a" stroke-width="1.2" stroke-linejoin="round"/>
<polyline points="43.90,453.30 99.04,461.23 117.42,453.30 135.80,460.93 172.56,460.62 209.32,454.22" fill="none" stroke="#3a3a3a" stroke-width="1.2" stroke-linejoin="round"/>
<polyline points="43.90,453.30 99.04,456.96 117.42,450.86 135.80,456.96 172.56,459.40 209.32,460.62" fill="none" stroke="#3a3a3a" stroke-width="1.2" stroke-linejoin="round"/>
<polyline points="43.90,453.30 99.04,453.30 117.42,440.80 135.80,453.91 172.56,443.54 209.32,447.81" fill="none" stroke="#72aa1c" stroke-width="1.3" stroke-linejoin="round"/>
<polyline points="43.90,453.30 99.04,483.19 117.42,460.93 135.80,463.37 172.56,450.86 209.32,448.73" fill="none" stroke="#72aa1c" stroke-width="1.3" stroke-linejoin="round"/>
<polyline points="43.90,453.30 99.04,486.85 117.42,478.62 135.80,476.48 172.56,468.55 209.32,460.93" fill="none" stroke="#72aa1c" stroke-width="1.3" stroke-linejoin="round"/>
<polyline points="43.90,453.30 99.04,492.95 117.42,479.23 135.80,479.23 172.56,460.93 209.32,460.01" fill="none" stroke="#72aa1c" stroke-width="1.3" stroke-linejoin="round"/>
<polyline points="43.90,453.30 99.04,504.54 117.42,461.23 135.80,463.06 172.56,453.30 209.32,455.13" fill="none" stroke="#72aa1c" stroke-width="1.3" stroke-linejoin="round"/>
<line x1="203.30" y1="478.40" x2="213.70" y2="478.40" stroke="#3a3a3a" stroke-width="1.0"/>
<line x1="203.30" y1="495.90" x2="213.70" y2="495.90" stroke="#72aa1c" stroke-width="1.2"/>
<line x1="203.30" y1="514.30" x2="213.70" y2="514.30" stroke="#ac3f7c" stroke-width="1.2"/>
<text x="219.60" y="482.00" font-size="10.6" fill="#231f20" textLength="76.90" lengthAdjust="spacingAndGlyphs">MT-SLP-76 only</text>
<text x="219.60" y="499.50" font-size="10.6" fill="#231f20" textLength="62.10" lengthAdjust="spacingAndGlyphs">ROR1-4-1BBζ</text>
<text x="219.60" y="517.60" font-size="10.6" fill="#231f20" textLength="70.40" lengthAdjust="spacingAndGlyphs">ROR1-4-1BBζ +</text>
<text x="219.60" y="530.00" font-size="10.6" fill="#231f20" textLength="52.30" lengthAdjust="spacingAndGlyphs">MT-SLP-76</text>
<polyline points="287.60,495.00 293.00,495.00 293.00,521.20 287.60,521.20" fill="none" stroke="#555" stroke-width="0.9" stroke-linejoin="round"/>
<text x="296.30" y="511.40" font-size="9.2" fill="#231f20" textLength="30.50" lengthAdjust="spacingAndGlyphs">0.0002</text>
<line x1="396.10" y1="424.10" x2="396.10" y2="544.90" stroke="#6e6e6e" stroke-width="1.0"/>
<line x1="395.60" y1="544.40" x2="576.30" y2="544.40" stroke="#6e6e6e" stroke-width="1.0"/>
<line x1="391.50" y1="435.50" x2="396.10" y2="435.50" stroke="#6e6e6e" stroke-width="1.0"/>
<text x="371.70" y="438.80" font-size="9.3" fill="#231f20" textLength="15.40" lengthAdjust="spacingAndGlyphs">100</text>
<line x1="391.50" y1="489.95" x2="396.10" y2="489.95" stroke="#6e6e6e" stroke-width="1.0"/>
<text x="375.70" y="493.25" font-size="9.3" fill="#231f20" textLength="11.40" lengthAdjust="spacingAndGlyphs">50</text>
<line x1="391.50" y1="544.40" x2="396.10" y2="544.40" stroke="#6e6e6e" stroke-width="1.0"/>
<text x="381.20" y="547.70" font-size="9.3" fill="#231f20" textLength="5.90" lengthAdjust="spacingAndGlyphs">0</text>
<line x1="396.30" y1="544.40" x2="396.30" y2="548.20" stroke="#6e6e6e" stroke-width="1.0"/>
<text x="393.20" y="561.30" font-size="9.3" fill="#231f20" textLength="5.80" lengthAdjust="spacingAndGlyphs">0</text>
<line x1="456.30" y1="544.40" x2="456.30" y2="548.20" stroke="#6e6e6e" stroke-width="1.0"/>
<text x="450.90" y="561.30" font-size="9.3" fill="#231f20" textLength="10.60" lengthAdjust="spacingAndGlyphs">10</text>
<line x1="516.30" y1="544.40" x2="516.30" y2="548.20" stroke="#6e6e6e" stroke-width="1.0"/>
<text x="511.10" y="561.30" font-size="9.3" fill="#231f20" textLength="10.90" lengthAdjust="spacingAndGlyphs">20</text>
<line x1="576.30" y1="544.40" x2="576.30" y2="548.20" stroke="#6e6e6e" stroke-width="1.0"/>
<text x="571.30" y="561.30" font-size="9.3" fill="#231f20" textLength="10.70" lengthAdjust="spacingAndGlyphs">30</text>
<text x="398.10" y="576.90" font-size="10.7" fill="#231f20" textLength="176.70" lengthAdjust="spacingAndGlyphs">Time after tumor inoculation (days)</text>
<text transform="translate(363.40,539.00) rotate(-90)" x="0" y="0" font-size="10.7" fill="#231f20" textLength="108.10" lengthAdjust="spacingAndGlyphs">Probability of survival</text>
<polyline points="396.30,435.80 444.30,435.80 444.30,544.40" fill="none" stroke="#ac3f7c" stroke-width="1.3" stroke-linejoin="round"/>
<polyline points="396.30,434.90 540.30,434.90 540.30,544.40" fill="none" stroke="#3a3a3a" stroke-width="1.2" stroke-linejoin="round"/>
<polyline points="396.30,434.00 558.30,434.00" fill="none" stroke="#72aa1c" stroke-width="1.4" stroke-linejoin="round"/>
<line x1="558.30" y1="434.00" x2="558.30" y2="431.50" stroke="#72aa1c" stroke-width="1.2"/>
<line x1="561.10" y1="447.50" x2="571.70" y2="447.50" stroke="#3a3a3a" stroke-width="1.0"/>
<line x1="561.10" y1="464.80" x2="571.70" y2="464.80" stroke="#72aa1c" stroke-width="1.2"/>
<line x1="561.10" y1="483.40" x2="571.70" y2="483.40" stroke="#ac3f7c" stroke-width="1.2"/>
<text x="577.80" y="451.10" font-size="10.6" fill="#231f20" textLength="76.80" lengthAdjust="spacingAndGlyphs">MT-SLP-76 only</text>
<text x="577.80" y="468.20" font-size="10.6" fill="#231f20" textLength="62.00" lengthAdjust="spacingAndGlyphs">ROR1-4-1BBζ</text>
<text x="577.80" y="486.60" font-size="10.6" fill="#231f20" textLength="70.60" lengthAdjust="spacingAndGlyphs">ROR1-4-1BBζ +</text>
<text x="577.80" y="498.60" font-size="10.6" fill="#231f20" textLength="52.20" lengthAdjust="spacingAndGlyphs">MT-SLP-76</text>
<polyline points="645.70,463.80 651.80,463.80 651.80,490.40 645.70,490.40" fill="none" stroke="#555" stroke-width="0.9" stroke-linejoin="round"/>
<text x="654.00" y="480.00" font-size="9.2" fill="#231f20" textLength="33.00" lengthAdjust="spacingAndGlyphs">0.0027</text>
</g>
</svg>
</body></html>
